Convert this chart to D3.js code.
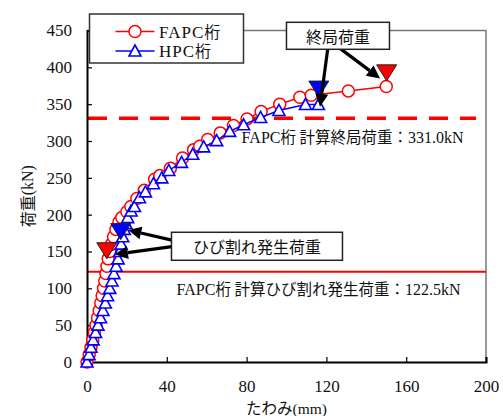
<!DOCTYPE html>
<html>
<head>
<meta charset="utf-8">
<script src="https://cdn.jsdelivr.net/npm/d3@7/dist/d3.min.js"></script>
<style>
  html, body { margin: 0; padding: 0; background: #fff; }
  svg { display: block; }
  text { font-family: "Liberation Serif", "Noto Sans CJK JP", serif; fill: #111; }
  .jp { font-family: "Noto Sans CJK JP", "Liberation Serif", sans-serif; }
</style>
</head>
<body>
<svg id="chart" width="503" height="416"></svg>
<script>
// Load–deflection test results (deflection in mm, load in kN)
const fapcDefl = [0, 1.1, 2.0, 2.9, 3.7, 4.5, 5.3, 6.1, 6.9, 7.6, 8.3, 8.9, 9.5, 10.0, 10.6, 11.4, 12.3, 13.3, 14.5, 16.0, 17.4, 20.0, 22.0, 25.0, 28.7, 33.9, 36.5, 41.8, 47.9, 53.4, 56.5, 60.5, 66.8, 73.4, 80.2, 87.3, 96.6, 106.7, 112.4, 131.0, 150.0];
const fapcLoad = [0, 10, 20, 30, 40, 50, 60, 70, 80, 90, 100, 110, 120, 130, 140, 150, 160, 170, 180, 190, 196, 204, 211, 222, 233, 248, 253, 263, 277, 288, 293, 302, 311, 321, 330, 340, 350, 359.5, 362, 368, 374];

const hpcDefl = [0, 1.0, 2.0, 3.1, 4.3, 5.5, 6.8, 8.0, 9.2, 10.3, 11.4, 12.5, 13.5, 14.6, 15.6, 16.4, 17.1, 17.9, 18.7, 19.5, 20.4, 22.1, 23.8, 26.3, 29.3, 33.3, 37.5, 41.0, 47.4, 53.0, 58.5, 65.0, 71.5, 78.5, 87.0, 96.2, 109.5, 116.0];
const hpcLoad = [0, 10, 20, 30, 40, 50, 60, 70, 80, 90, 100, 110, 120, 130, 140, 150, 160, 170, 180, 188, 196, 205, 211, 223, 231, 242, 250, 260, 271, 282, 292, 300.5, 313, 322, 332, 341.5, 349.5, 349.5];

// Event markers: [deflection, load]
const crackMarks = [
  { name: "FAPC", defl: 9.9, load: 151, color: "#ff0000" },
  { name: "HPC", defl: 16.9, load: 177, color: "#0000ff" }
];
const ultimateMarks = [
  { name: "FAPC", defl: 150.2, load: 392.5, color: "#ff0000" },
  { name: "HPC", defl: 116.2, load: 370.5, color: "#0000ff" }
];

// Calculated reference loads
const calcUltimate = 331.0;
const calcCrack = 122.5;

const xTicks = [0, 40, 80, 120, 160, 200];
const yTicks = [0, 50, 100, 150, 200, 250, 300, 350, 400, 450];

const svg = d3.select("#chart");
const x = d3.scaleLinear().domain([0, 200]).range([87, 486]);
const y = d3.scaleLinear().domain([0, 450]).range([362, 30.5]);

// plot frame (top / right)
svg.append("path")
  .attr("d", `M${x(0)},${y(450)}H${x(200)}V${y(0)}`)
  .attr("fill", "none").attr("stroke", "#777").attr("stroke-width", 1.5);

// reference lines
svg.append("line")
  .attr("x1", x(0)).attr("x2", x(200))
  .attr("y1", y(calcCrack)).attr("y2", y(calcCrack))
  .attr("stroke", "#ff0000").attr("stroke-width", 2.2);
svg.append("line")
  .attr("x1", x(0.5)).attr("x2", x(195))
  .attr("y1", y(calcUltimate)).attr("y2", y(calcUltimate))
  .attr("stroke", "#ff0000").attr("stroke-width", 3.5)
  .attr("stroke-dasharray", "19,12");

// reference-line captions
const cap1 = svg.append("text").attr("x", x(77.5)).attr("y", y(calcUltimate) + 25).attr("font-size", 16);
cap1.append("tspan").text("FAPC");
cap1.append("tspan").attr("class", "jp").attr("font-size", 15.5).text("桁 計算終局荷重：");
cap1.append("tspan").text(calcUltimate.toFixed(1) + "kN");

const cap2 = svg.append("text").attr("x", x(44.9)).attr("y", y(calcCrack) + 23).attr("font-size", 16);
cap2.append("tspan").text("FAPC");
cap2.append("tspan").attr("class", "jp").attr("font-size", 15.5).text("桁 計算ひび割れ発生荷重：");
cap2.append("tspan").text(calcCrack.toFixed(1) + "kN");

// axes
const yAxis = d3.axisLeft(y).tickValues(yTicks).tickSize(-5).tickPadding(15);
const xAxis = d3.axisBottom(x).tickValues(xTicks).tickSize(-5).tickPadding(18);

const gy = svg.append("g").attr("transform", `translate(${x(0)},0)`).call(yAxis);
const gx = svg.append("g").attr("transform", `translate(0,${y(0)})`).call(xAxis);
[gx, gy].forEach(g => {
  g.select(".domain").attr("stroke", "#000").attr("stroke-width", 2);
  g.selectAll(".tick line").attr("stroke", "#000").attr("stroke-width", 1.2);
  g.selectAll(".tick text")
    .attr("font-family", "Liberation Serif, serif")
    .attr("font-size", 17).attr("fill", "#111");
});

// axis titles
const yt = svg.append("text")
  .attr("transform", `translate(27,${(y(0) + y(450)) / 2}) rotate(-90)`)
  .attr("text-anchor", "middle").attr("dominant-baseline", "central").attr("font-size", 16);
yt.append("tspan").attr("class", "jp").text("荷重");
yt.append("tspan").text("(kN)");

const xt = svg.append("text")
  .attr("x", (x(0) + x(200)) / 2).attr("y", 414)
  .attr("text-anchor", "middle").attr("font-size", 15.5);
xt.append("tspan").attr("class", "jp").text("たわみ");
xt.append("tspan").text("(mm)");

// series
const line = d3.line().x(d => x(d[0])).y(d => y(d[1]));
const fapc = fapcDefl.map((d, i) => [d, fapcLoad[i]]);
const hpc = hpcDefl.map((d, i) => [d, hpcLoad[i]]);
const triUp = "M0,-6L6,5L-6,5Z";
const triDown = "M-10,-8L10,-8L0,8Z";

svg.append("path").datum(fapc).attr("d", line)
  .attr("fill", "none").attr("stroke", "#ff0000").attr("stroke-width", 1.5);
svg.append("g").selectAll("circle").data(fapc).join("circle")
  .attr("cx", d => x(d[0])).attr("cy", d => y(d[1])).attr("r", 6)
  .attr("fill", "#fff").attr("stroke", "#ff0000").attr("stroke-width", 1.5);

svg.append("path").datum(hpc).attr("d", line)
  .attr("fill", "none").attr("stroke", "#0000ff").attr("stroke-width", 1.5);
svg.append("g").selectAll("path").data(hpc).join("path")
  .attr("d", triUp)
  .attr("transform", d => `translate(${x(d[0])},${y(d[1])})`)
  .attr("fill", "#fff").attr("stroke", "#0000ff").attr("stroke-width", 1.6);

// event markers
svg.append("g").selectAll("path").data(crackMarks.concat(ultimateMarks)).join("path")
  .attr("d", triDown)
  .attr("transform", d => `translate(${x(d.defl)},${y(d.load)})`)
  .attr("fill", d => d.color).attr("stroke", "#222").attr("stroke-width", 1);

// annotation callouts
function arrow(x1, y1, x2, y2) {
  const ang = Math.atan2(y2 - y1, x2 - x1);
  const L = 13, W = 6.5;
  const bx = x2 - L * Math.cos(ang), by = y2 - L * Math.sin(ang);
  svg.append("line")
    .attr("x1", x1).attr("y1", y1).attr("x2", bx).attr("y2", by)
    .attr("stroke", "#000").attr("stroke-width", 3.2);
  const px = -Math.sin(ang) * W, py = Math.cos(ang) * W;
  svg.append("path")
    .attr("d", `M${x2},${y2}L${bx + px},${by + py}L${bx - px},${by - py}Z`)
    .attr("fill", "#000");
}
function callout(cx, cy, w, h, label) {
  svg.append("rect")
    .attr("x", cx - w / 2).attr("y", cy - h / 2).attr("width", w).attr("height", h)
    .attr("fill", "#fff").attr("stroke", "#222").attr("stroke-width", 1.5);
  svg.append("text").attr("class", "jp")
    .attr("x", cx).attr("y", cy).attr("text-anchor", "middle")
    .attr("dominant-baseline", "central").attr("font-size", 16).text(label);
}

// ultimate load callout
arrow(x(120.7), y(425.7), x(116.8), y(346.5));
arrow(x(126.8), y(425.7), x(146.9), y(385));
callout(x(125.8), y(442.8), 103, 27, "終局荷重");

// cracking load callout
arrow(x(42.5), y(165.5), x(20.7), y(179.1));
arrow(x(42.5), y(156.7), x(14.0), y(146.2));
callout(x(85.2), y(157.1), 171, 28, "ひび割れ発生荷重");

// legend
const lg = svg.append("g");
lg.append("rect").attr("x", 89.5).attr("y", 14).attr("width", 154).attr("height", 49)
  .attr("fill", "#fff").attr("stroke", "#333").attr("stroke-width", 1.5);
const legendItems = [
  { label: "FAPC", color: "#ff0000", shape: "circle", yy: 31.5 },
  { label: "HPC", color: "#0000ff", shape: "tri", yy: 51 }
];
legendItems.forEach(it => {
  lg.append("line").attr("x1", 115.5).attr("x2", 154.5).attr("y1", it.yy).attr("y2", it.yy)
    .attr("stroke", it.color).attr("stroke-width", 1.5);
  if (it.shape === "circle") {
    lg.append("circle").attr("cx", 135).attr("cy", it.yy).attr("r", 6)
      .attr("fill", "#fff").attr("stroke", it.color).attr("stroke-width", 1.5);
  } else {
    lg.append("path").attr("d", triUp).attr("transform", `translate(135,${it.yy})`)
      .attr("fill", "#fff").attr("stroke", it.color).attr("stroke-width", 1.6);
  }
  const t = lg.append("text").attr("x", 159).attr("y", it.yy + 6).attr("font-size", 17);
  t.append("tspan").attr("letter-spacing", 1).text(it.label);
  t.append("tspan").attr("class", "jp").attr("font-size", 16).text("桁");
});
</script>
</body>
</html>
